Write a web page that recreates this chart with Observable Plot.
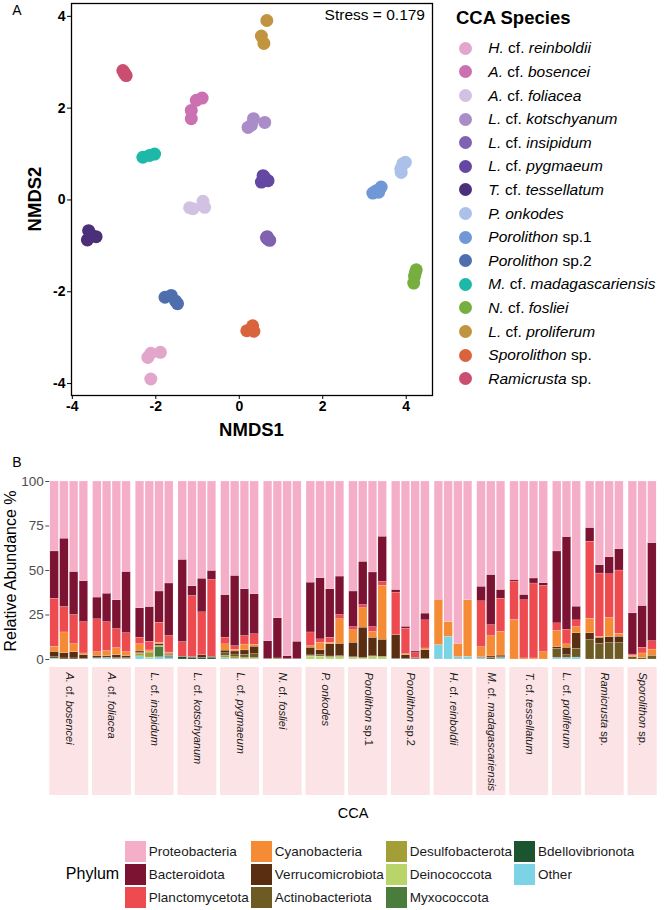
<!DOCTYPE html>
<html>
<head>
<meta charset="utf-8">
<script src="https://cdn.jsdelivr.net/npm/d3@7"></script>
<script src="https://cdn.jsdelivr.net/npm/@observablehq/plot@0.6"></script>
<style>
  body { margin: 0; background: #fff; }
  #fig { position: relative; width: 666px; height: 910px; overflow: hidden;
         font-family: "Liberation Sans", Arial, Helvetica, sans-serif; color: #000; background: #fff; }
  .abs { position: absolute; }
  .centered { transform: translate(-50%, -50%); white-space: nowrap; }
  .rot { transform: translate(-50%, -50%) rotate(-90deg); white-space: nowrap; }
  .tag { font-size: 14px; }
  .ordTitle { font-weight: bold; font-size: 18.5px; }
  #speciesLegend { left: 456px; top: 0; width: 210px; height: 400px; }
  #speciesLegend .title { position: absolute; left: 0; top: 18.3px; transform: translateY(-50%);
                          font-weight: bold; font-size: 18.5px; white-space: nowrap; }
  #speciesLegend .dot { position: absolute; width: 13px; height: 13px; border-radius: 50%; }
  #speciesLegend .lab { position: absolute; font-size: 15.5px; white-space: nowrap; transform: translateY(-50%); }
  #phylumLegend { left: 18px; top: 839.5px; width: 666px; display: flex; justify-content: center; align-items: center; }
  #phylumLegend .ptitle { font-size: 16px; margin-right: 5.5px; }
  #phylumLegend .grid { display: grid; grid-auto-flow: column; grid-template-rows: repeat(3, 23.3px); }
  #phylumLegend .item { display: flex; align-items: center; font-size: 13.5px; color: #1a1a1a;
                        white-space: nowrap; padding-right: 2px; }
  #phylumLegend .sw { width: 21.2px; height: 21.2px; margin-right: 3px; }
</style>
</head>
<body>
<div id="fig">
  <div class="abs tag centered" style="left:17px;top:9.5px">A</div>
  <div class="abs tag centered" style="left:17px;top:462px">B</div>
  <div id="scatter" class="abs" style="left:0;top:0"></div>
  <div class="abs ordTitle rot" style="left:34.5px;top:199px">NMDS2</div>
  <div class="abs ordTitle centered" style="left:251.5px;top:430px">NMDS1</div>
  <div id="speciesLegend" class="abs"></div>
  <div id="bars" class="abs" style="left:0;top:470px"></div>
  <div class="abs rot" style="left:11px;top:571px;font-size:16px">Relative Abundance %</div>
  <div id="strips" class="abs" style="left:0;top:667px"></div>
  <div class="abs centered" style="left:353px;top:813px;font-size:14.5px">CCA</div>
  <div id="phylumLegend" class="abs"></div>
</div>
<script>
// ---------- NMDS ordination (panel A) ----------
const stress = 0.179;

const species = [
  "H. cf. reinboldii", "A. cf. bosencei", "A. cf. foliacea", "L. cf. kotschyanum",
  "L. cf. insipidum", "L. cf. pygmaeum", "T. cf. tessellatum", "P. onkodes",
  "Porolithon sp.1", "Porolithon sp.2", "M. cf. madagascariensis", "N. cf. fosliei",
  "L. cf. proliferum", "Sporolithon sp.", "Ramicrusta sp."
];
const speciesColors = [
  "#E2A6CD", "#CB70B0", "#D3C1E3", "#A98DC8",
  "#7F62B0", "#6447A3", "#4B2F78", "#ABC1E9",
  "#7098D6", "#4E6EAD", "#1CB8A8", "#76AF3F",
  "#C19540", "#D9633C", "#CA4E6F"
];

// NMDS1 scores per replicate, one row per species (same order as `species`)
const nmds1 = [
  [-2.19, -2.12, -1.89, -2.12],
  [-1.15, -1.03, -0.89, -1.15],
  [-1.11, -0.87, -0.83, -1.19],
  [0.21, 0.34, 0.61, 0.29],
  [0.67, 0.73, 0.69, 0.65],
  [0.57, 0.69, 0.53, 0.60],
  [-3.61, -3.43, -3.64, -3.56],
  [3.92, 3.88, 3.98, 3.87],
  [3.28, 3.40, 3.20, 3.34],
  [-1.78, -1.63, -1.53, -1.48],
  [-2.31, -2.03, -2.15],
  [4.24, 4.18, 4.20, 4.22],
  [0.66, 0.53, 0.59],
  [0.18, 0.32, 0.35],
  [-2.79, -2.71, -2.76, -2.74]
];
// NMDS2 scores per replicate
const nmds2 = [
  [-3.43, -3.34, -3.32, -3.90],
  [1.95, 2.17, 2.22, 1.77],
  [-0.19, -0.03, -0.16, -0.17],
  [1.58, 1.77, 1.69, 1.63],
  [-0.80, -0.88, -0.86, -0.82],
  [0.53, 0.42, 0.39, 0.50],
  [-0.67, -0.80, -0.87, -0.75],
  [0.79, 0.60, 0.82, 0.68],
  [0.20, 0.28, 0.15, 0.17],
  [-2.12, -2.08, -2.20, -2.26],
  [0.93, 1.00, 0.97],
  [-1.52, -1.81, -1.66, -1.58],
  [3.91, 3.57, 3.41],
  [-2.85, -2.74, -2.86],
  [2.82, 2.71, 2.78, 2.74]
];

// ---------- Phylum composition (panel B) ----------
const phyla = [
  "Proteobacteria", "Bacteroidota", "Planctomycetota", "Cyanobacteria",
  "Verrucomicrobiota", "Actinobacteriota", "Desulfobacterota", "Deinococcota",
  "Myxococcota", "Bdellovibrionota", "Other"
];
const phylumColors = [
  "#F5AEC7", "#7C1333", "#EE4B51", "#F68B35",
  "#5A2E10", "#6E5B24", "#A29F37", "#B9D56A",
  "#4A7D3B", "#1C5430", "#7CD3E6"
];

const ccaOrder = [
  "A. cf. bosencei", "A. cf. foliacea", "L. cf. insipidum", "L. cf. kotschyanum",
  "L. cf. pygmaeum", "N. cf. fosliei", "P. onkodes", "Porolithon sp.1",
  "Porolithon sp.2", "H. cf. reinboldii", "M. cf. madagascariensis", "T. cf. tessellatum",
  "L. cf. proliferum", "Ramicrusta sp.", "Sporolithon sp."
];
const samplesPerCCA = [4, 4, 4, 4, 4, 4, 4, 4, 4, 4, 3, 4, 3, 4, 3];

// relative abundance (%) per sample, samples in ccaOrder
const proteobacteria = [
  39.3, 32.1, 50.8, 56.0,   65.2, 63.0, 66.7, 50.8,   71.2, 70.5, 61.8, 57.3,
  44.0, 58.9, 54.6, 50.2,   63.8, 53.0, 60.5, 63.3,   89.7, 76.9, 98.1, 90.0,
  56.8, 54.3, 60.5, 53.4,   61.8, 45.1, 51.1, 31.0,   60.9, 81.6, 95.5, 74.2,
  66.4, 78.9, 91.2, 66.7,   59.1, 52.5, 60.9,         55.3, 63.7, 54.5, 57.1,
  39.3, 31.2, 70.3,         26.1, 47.0, 42.5, 38.0,   74.1, 69.9, 34.6
];
const bacteroidota = [
  26.5, 38.4, 24.2, 23.0,   12.2, 16.0, 16.2, 34.4,   16.6, 19.5, 17.5, 29.5,
  46.2, 5.4, 18.9, 5.1,     24.0, 39.5, 26.3, 22.5,   9.8, 22.5, 1.6, 9.7,
  28.0, 34.4, 27.3, 21.6,   20.0, 24.3, 30.7, 25.4,   1.5, 1.1, 0.9, 3.8,
  0, 0, 0, 0,               8.2, 28.2, 4.9,           0.9, 3.0, 2.8, 1.5,
  40.4, 52.1, 7.7,          7.7, 4.7, 9.6, 12.0,      23.1, 23.5, 55.1
];
const planctomycetota = [
  27.1, 14.3, 16.4, 17.6,   18.5, 16.3, 10.7, 10.7,   3.6, 4.9, 11.3, 9.3,
  8.3, 34.4, 24.0, 43.2,    3.7, 2.0, 4.8, 5.9,       0, 0, 0, 0,
  7.7, 1.9, 2.8, 2.4,       1.8, 1.8, 2.8, 2.2,       23.9, 14.3, 2.7, 15.8,
  0.3, 0, 0, 0,             25.8, 6.2, 18.7,          21.6, 32.7, 42.1, 37.3,
  4.3, 8.2, 3.8,            43.3, 35.5, 24.6, 35.5,   0.7, 3.2, 4.7
];
const cyanobacteria = [
  2.8, 11.6, 4.5, 0.9,      2.1, 2.8, 4.0, 2.2,       4.1, 1.0, 0.9, 0.7,
  0, 0, 0, 0,               3.5, 1.0, 3.3, 1.1,       0, 0, 0, 0,
  0.9, 4.1, 0.9, 13.8,      7.0, 10.9, 3.2, 30.3,     0, 0.6, 0, 0.9,
  25.2, 8.3, 7.5, 31.8,     5.7, 11.4, 13.3,          22.2, 0.6, 0.6, 4.1,
  9.0, 1.9, 3.5,            8.2, 0.6, 10.7, 1.7,      0.9, 2.5, 3.5
];
const verrucomicrobiota = [
  3.0, 3.0, 3.5, 2.0,       1.2, 0.8, 1.6, 1.1,       0.7, 0.2, 0.7, 0.6,
  0, 0.3, 1.5, 0.5,         1.5, 1.7, 2.5, 4.2,       0, 0, 0, 0,
  4.3, 2.8, 6.8, 6.9,       8.1, 17.1, 10.4, 9.6,     13.2, 2.1, 0.6, 4.8,
  0, 0, 0, 0,               0.3, 0.7, 0.9,            0, 0, 0, 0,
  1.0, 4.2, 8.7,            3.8, 3.4, 3.4, 3.6,       0, 0, 0
];
const actinobacteriota = [
  0.8, 0.6, 0.6, 0.5,       0.3, 0.3, 0.5, 0.5,       0.5, 0.3, 0.3, 0.6,
  0, 0, 0, 0,               1.5, 1.5, 1.5, 2.2,       0.5, 0, 0.3, 0.3,
  0.4, 0.8, 0.4, 0.4,       0.3, 0, 0.3, 0.2,         0.5, 0.3, 0.3, 0.5,
  0, 0, 0, 0,               0, 1.0, 0.5,              0, 0, 0, 0,
  5.1, 1.5, 4.9,            10.9, 8.8, 9.2, 9.2,      1.2, 0.9, 2.1
];
const desulfobacterota = [
  0, 0, 0, 0,               0, 0, 0, 0,               1.5, 2.5, 0.4, 0.4,
  0, 0, 0, 0,               1.2, 1.0, 0.8, 0.5,       0, 0.6, 0, 0,
  0.4, 0.2, 0, 0.2,         0, 0, 0, 0,               0, 0, 0, 0,
  0, 0, 0, 0,               0, 0, 0,                  0, 0, 0, 0,
  0, 0, 0,                  0, 0, 0, 0,               0, 0, 0
];
const deinococcota = [
  0, 0, 0, 0,               0, 0, 0, 0,               0, 0.5, 0, 0,
  0, 0, 0, 0,               0, 0, 0, 0,               0, 0, 0, 0,
  1.5, 1.5, 1.3, 1.3,       1.0, 0.8, 1.5, 1.3,       0, 0, 0, 0,
  0, 0, 0, 0,               0, 0, 0,                  0, 0, 0, 0,
  0, 0, 0,                  0, 0, 0, 0,               0, 0, 0
];
const myxococcota = [
  0, 0, 0, 0,               0, 0, 0, 0,               0.3, 0, 5.8, 0,
  0, 0, 0, 0,               0, 0, 0, 0,               0, 0, 0, 0,
  0, 0, 0, 0,               0, 0, 0, 0,               0, 0, 0, 0,
  0, 0, 0, 0,               0, 0, 0,                  0, 0, 0, 0,
  0, 0, 0,                  0, 0, 0, 0,               0, 0, 0
];
const bdellovibrionota = [
  0, 0, 0, 0,               0, 0, 0, 0,               0, 0, 0.3, 0.8,
  1.5, 1.0, 1.0, 1.0,       0, 0, 0, 0,               0, 0, 0, 0,
  0, 0, 0, 0,               0, 0, 0, 0,               0, 0, 0, 0,
  0, 0, 0, 0,               0, 0, 0,                  0, 0, 0, 0,
  0, 0, 0,                  0, 0, 0, 0,               0, 0, 0
];
const other = [
  0.5, 0, 0, 0,             0.5, 0.8, 0.3, 0.3,       1.5, 0.6, 1.0, 0.8,
  0, 0, 0, 0,               0.8, 0.3, 0.3, 0.3,       0, 0, 0, 0,
  0, 0, 0, 0,               0, 0, 0, 0,               0, 0, 0, 0,
  8.1, 12.8, 1.3, 1.5,      0.9, 0, 0.8,              0, 0, 0, 0,
  0.9, 0.9, 1.1,            0, 0, 0, 0,               0, 0, 0
];

const abundance = {
  Proteobacteria: proteobacteria, Bacteroidota: bacteroidota, Planctomycetota: planctomycetota,
  Cyanobacteria: cyanobacteria, Verrucomicrobiota: verrucomicrobiota, Actinobacteriota: actinobacteriota,
  Desulfobacterota: desulfobacterota, Deinococcota: deinococcota, Myxococcota: myxococcota,
  Bdellovibrionota: bdellovibrionota, Other: other
};

const FONT = '"Liberation Sans", Arial, Helvetica, sans-serif';

// Split a taxon name into italic / upright runs ("cf." and "sp." stay upright)
function nameParts(name) {
  return name.split(" ").map((w, i, arr) => ({
    text: w + (i < arr.length - 1 ? " " : ""),
    italic: !/^(cf\.|sp\.\d*)$/.test(w)
  }));
}
function nameHTML(name) {
  return nameParts(name).map(p => p.italic ? `<i>${p.text}</i>` : p.text).join("");
}

// ---------- Panel A: scatter ----------
const points = [];
species.forEach((s, i) => {
  nmds1[i].forEach((x, j) => points.push({species: s, nmds1: x, nmds2: nmds2[i][j]}));
});

const scatter = Plot.plot({
  width: 436, height: 445,
  marginLeft: 71, marginRight: 4, marginTop: 3, marginBottom: 50,
  x: {domain: [-4.02, 4.63]},
  y: {domain: [-4.26, 4.28]},
  color: {domain: species, range: speciesColors},
  style: {fontFamily: FONT, background: "transparent", color: "black", overflow: "visible"},
  marks: [
    Plot.axisX({ticks: [-4, -2, 0, 2, 4], tickFormat: d => String(d), tickSize: 4, tickPadding: 2,
                fontSize: 14, fontWeight: "bold", label: null}),
    Plot.axisY({ticks: [-4, -2, 0, 2, 4], tickFormat: d => String(d), tickSize: 4, tickPadding: 2,
                fontSize: 14, fontWeight: "bold", label: null}),
    Plot.dot(points, {x: "nmds1", y: "nmds2", fill: "species", r: 6.5}),
    Plot.frame({stroke: "black", strokeWidth: 1.3}),
    Plot.text([`Stress = ${stress}`], {frameAnchor: "top-right", textAnchor: "end", lineAnchor: "middle",
               dx: -7.5, dy: 12, fontSize: 15.5, fill: "black"})
  ]
});
document.getElementById("scatter").append(scatter);

// species legend
const sl = document.getElementById("speciesLegend");
sl.innerHTML = `<div class="title">CCA Species</div>`;
species.forEach((s, i) => {
  const cy = 48.3 + 23.6 * i;
  const dot = document.createElement("div");
  dot.className = "dot";
  dot.style.left = "3.2px";
  dot.style.top = (cy - 6.5) + "px";
  dot.style.background = speciesColors[i];
  const lab = document.createElement("div");
  lab.className = "lab";
  lab.style.left = "32.3px";
  lab.style.top = cy + "px";
  lab.innerHTML = nameHTML(s);
  sl.append(dot, lab);
});

// ---------- Panel B: stacked bars, panels sized by sample count ----------
const gapUnits = 0.385;
const bars = [];
const panels = [];
let pos = 0;
ccaOrder.forEach((cca, g) => {
  const start = pos;
  for (let k = 0; k < samplesPerCCA[g]; k++) {
    bars.push({cca, x1: pos, x2: pos + 1});
    pos += 1;
  }
  panels.push({cca, x1: start, x2: pos});
  if (g < ccaOrder.length - 1) pos += gapUnits;
});
const totalUnits = pos;

const segments = [];
const bottomUp = [...phyla].reverse();
bars.forEach((b, i) => {
  let base = 0;
  for (const p of bottomUp) {
    const v = abundance[p][i];
    if (v > 0) segments.push({cca: b.cca, x1: b.x1, x2: b.x2, phylum: p, y1: base, y2: base + v});
    base += v;
  }
});

const barChart = Plot.plot({
  width: 666, height: 195,
  marginLeft: 49.3, marginRight: 9.3, marginTop: 11, marginBottom: 6,
  x: {domain: [0, totalUnits], axis: null},
  y: {domain: [0, 100]},
  color: {domain: phyla, range: phylumColors},
  style: {fontFamily: FONT, background: "transparent", color: "#4d4d4d", overflow: "visible"},
  marks: [
    Plot.axisY({ticks: [0, 25, 50, 75, 100], tickSize: 4, tickPadding: 2, fontSize: 13.5, label: null}),
    Plot.rect(segments, {x1: "x1", x2: "x2", y1: "y1", y2: "y2", fill: "phylum",
                         insetLeft: 0.6, insetRight: 0.6, stroke: "white", strokeWidth: 0.25, strokeOpacity: 0.7})
  ]
});
document.getElementById("bars").append(barChart);

// facet strips with rotated labels
const strips = Plot.plot({
  width: 666, height: 128,
  marginLeft: 49.3, marginRight: 9.3, marginTop: 0, marginBottom: 0,
  x: {domain: [0, totalUnits], axis: null},
  style: {fontFamily: FONT, background: "transparent", overflow: "visible"},
  marks: [
    Plot.rect(panels, {x1: "x1", x2: "x2", fill: "#FCE3E6"}),
    Plot.text(panels, {x: d => (d.x1 + d.x2) / 2, text: "cca", frameAnchor: "top", rotate: 90,
                       textAnchor: "start", lineAnchor: "middle", dy: 5, fontSize: 11, fill: "#1a1a1a"})
  ]
});
document.getElementById("strips").append(strips);
strips.querySelectorAll("text").forEach(t => {
  const name = t.textContent;
  if (!ccaOrder.includes(name)) return;
  t.textContent = "";
  nameParts(name).forEach(p => {
    const ts = document.createElementNS("http://www.w3.org/2000/svg", "tspan");
    ts.textContent = p.text;
    ts.setAttribute("font-style", p.italic ? "italic" : "normal");
    t.append(ts);
  });
  t.setAttribute("style", (t.getAttribute("style") || "") + ";white-space:pre");
});

// phylum legend
const pl = document.getElementById("phylumLegend");
pl.innerHTML = `<div class="ptitle">Phylum</div><div class="grid">` +
  phyla.map((p, i) => `<div class="item"><div class="sw" style="background:${phylumColors[i]}"></div>${p}</div>`).join("") +
  `</div>`;
</script>
</body>
</html>
